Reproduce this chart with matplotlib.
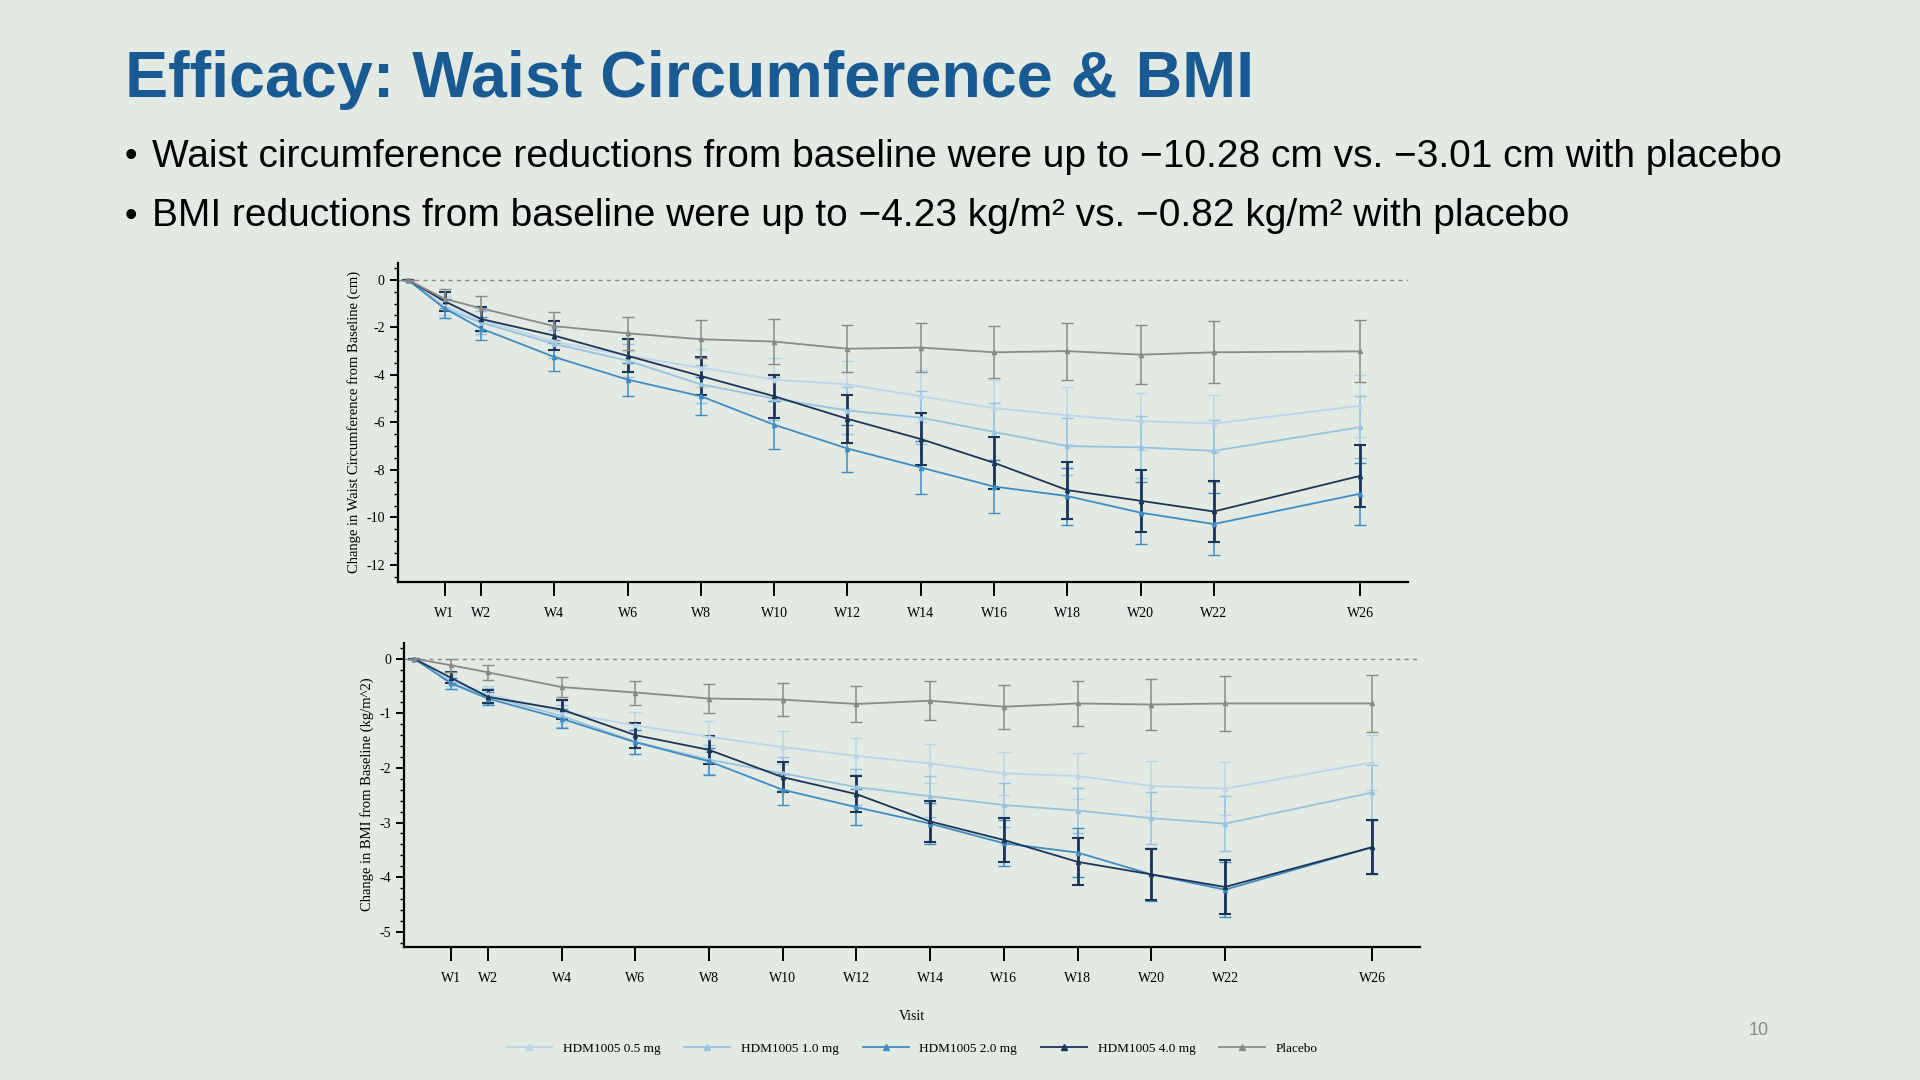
import numpy as np
import matplotlib.pyplot as plt
from matplotlib.ticker import MultipleLocator
from matplotlib.lines import Line2D

plt.rcParams["axes.unicode_minus"] = False

weeks = [0, 1, 2, 4, 6, 8, 10, 12, 14, 16, 18, 20, 22, 26]
labels = ["W1", "W2", "W4", "W6", "W8", "W10", "W12", "W14", "W16", "W18", "W20", "W22", "W26"]

groups = ["HDM1005 0.5 mg", "HDM1005 1.0 mg", "HDM1005 2.0 mg", "HDM1005 4.0 mg", "Placebo"]
colors = ["#bcd5e8", "#98c3e0", "#3f8cc2", "#1c3557", "#8a8a8a"]

# waist circumference change (cm)
waist = {
    "HDM1005 0.5 mg": [0, -1.1, -1.7, -2.6, -3.2, -3.7, -4.2, -4.4, -4.9, -5.4, -5.7, -5.95, -6.05, -5.3],
    "HDM1005 1.0 mg": [0, -1.2, -1.8, -2.7, -3.4, -4.4, -5.0, -5.5, -5.8, -6.4, -7.0, -7.05, -7.2, -6.2],
    "HDM1005 2.0 mg": [0, -1.2, -2.05, -3.25, -4.2, -4.9, -6.1, -7.1, -7.9, -8.7, -9.1, -9.8, -10.28, -9.0],
    "HDM1005 4.0 mg": [0, -0.9, -1.65, -2.35, -3.2, -4.05, -4.9, -5.85, -6.7, -7.7, -8.85, -9.3, -9.75, -8.25],
    "Placebo": [0, -0.8, -1.2, -1.95, -2.25, -2.5, -2.6, -2.9, -2.85, -3.05, -3.0, -3.15, -3.05, -3.01],
}
waist_err = {
    "HDM1005 0.5 mg": [0, 0.4, 0.5, 0.6, 0.7, 0.8, 0.9, 1.0, 1.1, 1.2, 1.2, 1.2, 1.2, 1.3],
    "HDM1005 1.0 mg": [0, 0.4, 0.5, 0.6, 0.7, 0.8, 0.9, 1.0, 1.1, 1.2, 1.2, 1.3, 1.3, 1.3],
    "HDM1005 2.0 mg": [0, 0.4, 0.5, 0.6, 0.7, 0.8, 1.0, 1.0, 1.1, 1.1, 1.2, 1.3, 1.3, 1.3],
    "HDM1005 4.0 mg": [0, 0.4, 0.5, 0.6, 0.7, 0.8, 0.9, 1.0, 1.1, 1.1, 1.2, 1.3, 1.3, 1.3],
    "Placebo": [0, 0.4, 0.5, 0.6, 0.7, 0.8, 0.95, 1.0, 1.05, 1.1, 1.2, 1.25, 1.3, 1.3],
}

# BMI change (kg/m^2)
bmi = {
    "HDM1005 0.5 mg": [0, -0.4, -0.65, -0.98, -1.22, -1.43, -1.62, -1.78, -1.92, -2.1, -2.15, -2.33, -2.38, -1.9],
    "HDM1005 1.0 mg": [0, -0.45, -0.68, -1.05, -1.52, -1.85, -2.1, -2.35, -2.52, -2.68, -2.78, -2.92, -3.02, -2.45],
    "HDM1005 2.0 mg": [0, -0.45, -0.73, -1.1, -1.53, -1.88, -2.4, -2.72, -3.02, -3.38, -3.55, -3.95, -4.23, -3.45],
    "HDM1005 4.0 mg": [0, -0.35, -0.7, -0.93, -1.4, -1.67, -2.17, -2.48, -2.98, -3.32, -3.72, -3.95, -4.18, -3.45],
    "Placebo": [0, -0.12, -0.25, -0.52, -0.62, -0.73, -0.75, -0.83, -0.77, -0.88, -0.82, -0.84, -0.82, -0.82],
}
bmi_err = {
    "HDM1005 0.5 mg": [0, 0.1, 0.15, 0.2, 0.25, 0.28, 0.3, 0.33, 0.36, 0.4, 0.42, 0.45, 0.48, 0.5],
    "HDM1005 1.0 mg": [0, 0.1, 0.15, 0.2, 0.22, 0.27, 0.3, 0.33, 0.37, 0.4, 0.42, 0.48, 0.5, 0.5],
    "HDM1005 2.0 mg": [0, 0.1, 0.12, 0.17, 0.22, 0.25, 0.28, 0.33, 0.37, 0.42, 0.45, 0.48, 0.5, 0.5],
    "HDM1005 4.0 mg": [0, 0.1, 0.12, 0.18, 0.23, 0.25, 0.28, 0.33, 0.37, 0.4, 0.43, 0.46, 0.5, 0.5],
    "Placebo": [0, 0.12, 0.14, 0.18, 0.22, 0.26, 0.3, 0.33, 0.36, 0.4, 0.42, 0.46, 0.5, 0.52],
}

bg = "#e3e9e3"
fig = plt.figure(figsize=(19.2, 10.8), dpi=100, facecolor=bg)

fig.text(0.065, 0.926, "Efficacy: Waist Circumference & BMI", fontsize=46.5, fontweight="bold",
         color="#1a5a93", va="center", family="Liberation Sans")
bullets = ["Waist circumference reductions from baseline were up to \u221210.28 cm vs. \u22123.01 cm with placebo",
           "BMI reductions from baseline were up to \u22124.23 kg/m\u00b2 vs. \u22120.82 kg/m\u00b2 with placebo"]
for i, b in enumerate(bullets):
    y = 0.855 - i * 0.055
    fig.text(0.065, y, "\u2022", fontsize=26, va="center", family="Liberation Sans")
    fig.text(0.079, y, b, fontsize=28, va="center", family="Liberation Sans")
fig.text(0.911, 0.042, "10", fontsize=13, color="#8a8a8a", family="Liberation Sans")


def panel(ax, data, err, ylim, ymajor, yminor, ylabel):
    ax.set_facecolor(bg)
    ax.axhline(0, color="#8a8a8a", ls=(0, (3, 3)), lw=1)
    for g, c in zip(groups, colors):
        thick = g == "HDM1005 4.0 mg"
        ax.errorbar(weeks, data[g], yerr=err[g], color=c, lw=1.3, elinewidth=2 if thick else 1.1,
                    capsize=4, capthick=1.5 if thick else 1, marker="^", ms=3, label=g)
    ax.set_xlim(-0.27, 27.3)
    ax.set_ylim(*ylim)
    ax.set_xticks(weeks[1:])
    ax.set_xticklabels(labels)
    ax.yaxis.set_major_locator(MultipleLocator(ymajor))
    ax.yaxis.set_minor_locator(MultipleLocator(yminor))
    for s in ["top", "right"]:
        ax.spines[s].set_visible(False)
    for s in ["left", "bottom"]:
        ax.spines[s].set_linewidth(1.6)
    ax.tick_params(axis="x", length=10, width=1.4, pad=8, labelsize=10)
    ax.tick_params(axis="y", which="major", length=6, width=1.4, labelsize=10)
    ax.tick_params(axis="y", which="minor", length=3, width=1)
    ax.set_ylabel(ylabel, fontsize=10.5)
    for t in ax.get_xticklabels() + ax.get_yticklabels():
        t.set_family("Liberation Serif")
    ax.yaxis.label.set_family("Liberation Serif")


ax1 = fig.add_axes([0.2073, 0.4615, 0.526, 0.2948])
panel(ax1, waist, waist_err, (-12.7, 0.7), 2, 0.5, "Change in Waist Circumference from Baseline (cm)")
ax2 = fig.add_axes([0.2105, 0.1236, 0.5293, 0.2812])
panel(ax2, bmi, bmi_err, (-5.27, 0.29), 1, 0.2, "Change in BMI from Baseline (kg/m^2)")
ax2.set_xlabel("Visit", fontsize=10, family="Liberation Serif", labelpad=18)

handles = [Line2D([], [], color=c, marker="^", ms=4, lw=1.3) for c in colors]
fig.legend(handles, groups, loc="center", bbox_to_anchor=(0.475, 0.029), ncol=5, frameon=False,
           prop={"family": "Liberation Serif", "size": 9.5}, handlelength=3.5, columnspacing=1.8)

fig.savefig("out.png", dpi=100, facecolor=bg)
